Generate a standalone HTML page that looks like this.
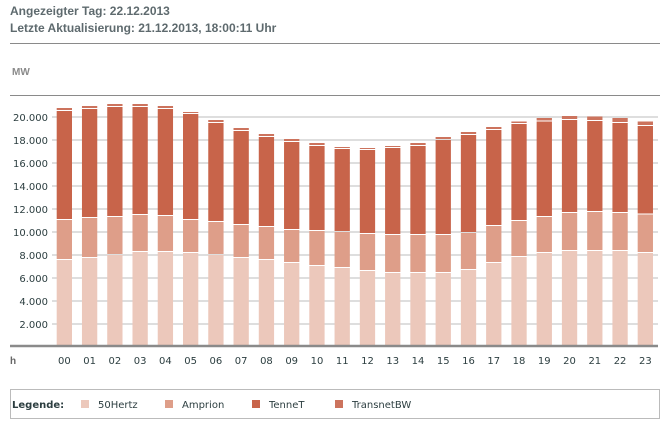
<!DOCTYPE html>
<html><head><meta charset="utf-8"><style>
body{margin:0;width:672px;height:426px;background:#fff;overflow:hidden;font-family:"Liberation Sans",sans-serif}
svg{position:absolute;left:0;top:0}
</style></head><body>
<svg width="672" height="426" xmlns="http://www.w3.org/2000/svg">
<text x="10" y="15" font-size="12" font-weight="bold" fill="#5e6a6e">Angezeigter Tag: 22.12.2013</text>
<text x="10" y="32" font-size="12" font-weight="bold" fill="#5e6a6e">Letzte Aktualisierung: 21.12.2013, 18:00:11 Uhr</text>
<line x1="10" y1="43.5" x2="660" y2="43.5" stroke="#8a8a8a" stroke-width="1"/>
<text x="12" y="75" font-size="10" font-weight="bold" fill="#8a8a8a">MW</text>
<line x1="10" y1="95.5" x2="660" y2="95.5" stroke="#8a8a8a" stroke-width="1"/>
<g id="grid"></g>
<g id="bars"></g>
<line x1="10" y1="346" x2="658" y2="346" stroke="#8a8a8a" stroke-width="2.5"/>
<text x="10" y="364" font-size="10" font-weight="bold" fill="#666">h</text>
<g id="hl" font-family="DejaVu Sans, sans-serif" font-size="10" fill="#2c3e40" text-anchor="middle"></g>
<rect x="10.5" y="389.5" width="649" height="29" fill="none" stroke="#bbb"/>
<text x="12" y="408" font-size="10" font-weight="bold" fill="#2c3e40" font-family="DejaVu Sans, sans-serif">Legende:</text>
<rect x="81" y="400" width="8" height="8" fill="#ecc8bb"/><text x="98" y="408" font-size="10" fill="#2c3e40" font-family="DejaVu Sans, sans-serif">50Hertz</text>
<rect x="165" y="400" width="8" height="8" fill="#de9e89"/><text x="182" y="408" font-size="10" fill="#2c3e40" font-family="DejaVu Sans, sans-serif">Amprion</text>
<rect x="252" y="400" width="8" height="8" fill="#c8644a"/><text x="269" y="408" font-size="10" fill="#2c3e40" font-family="DejaVu Sans, sans-serif">TenneT</text>
<rect x="335" y="400" width="8" height="8" fill="#cc735d"/><text x="352" y="408" font-size="10" fill="#2c3e40" font-family="DejaVu Sans, sans-serif">TransnetBW</text>
</svg>
<script>
var ns="http://www.w3.org/2000/svg",svg=document.querySelector('svg');
function el(p,t,a,txt){var e=document.createElementNS(ns,t);for(var k in a)e.setAttribute(k,a[k]);if(txt)e.textContent=txt;p.appendChild(e);return e;}
var g=document.getElementById('grid');
for(var i=1;i<=10;i++){var y=347-i*23;el(g,'line',{x1:52,y1:y,x2:658,y2:y,stroke:'#d4d4d4','stroke-width':1.5});
el(g,'text',{x:48,y:y+4,'font-size':10,'text-anchor':'end',fill:'#2c3e40','font-family':'DejaVu Sans, sans-serif'},(i*2)+'.000');}
var d=[[260,220,111,108],[258,218,109,106],[255,217,107,104],[252,215,107,104],[252,216,109,106],[253,220,114,112],[255,222,123,120],[258,225,131,128],[260,227,137,134],[263,230,142,139],[266,231,146,143],[268,232,149,147],[271,234,150,148],[273,235,148,146],[273,235,146,143],[273,235,140,137],[270,233,135,132],[263,226,130,127],[257,221,124,121.5],[253,217,121.5,118],[251,213,120,116],[251,212,121,116.5],[251,213,123,118],[253,214.5,126,121.5]];
var b=document.getElementById('bars'),hl=document.getElementById('hl');
d.forEach(function(v,i){var x=56.7+i*25.26,w=15.3;
el(b,'rect',{x:x,y:v[0],width:w,height:346-v[0],fill:'#ecc8bb'});
el(b,'rect',{x:x,y:v[1],width:w,height:v[0]-v[1]-1,fill:'#de9e89'});
el(b,'rect',{x:x,y:v[2],width:w,height:v[1]-v[2]-1,fill:'#c8644a'});
el(b,'rect',{x:x,y:v[3],width:w,height:Math.max(v[2]-v[3]-1,1),fill:'#cc735d'});
el(hl,'text',{x:x+w/2,y:364},(i<10?'0':'')+i);});
</script>
</body></html>
